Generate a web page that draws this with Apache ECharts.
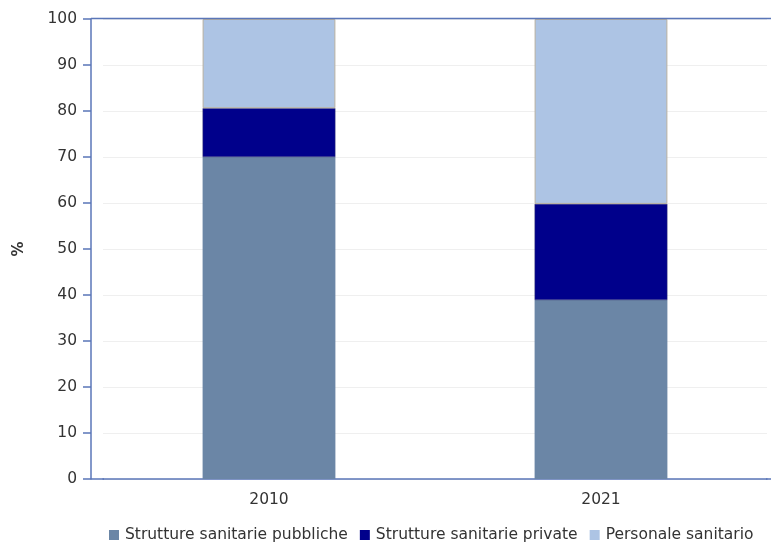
<!DOCTYPE html>
<html><head><meta charset="utf-8">
<script src="https://cdn.jsdelivr.net/npm/echarts@6/dist/echarts.min.js"></script>
<style>html,body{margin:0;padding:0;background:#fff}#c{width:771px;height:545px}</style>
</head><body><div id="c"></div>
<script>
var categories = ['2010', '2021'];
var pubbliche = [70.0, 38.9];
var private_ = [10.6, 20.9];
var personale = [19.4, 40.2];
var yTicks = [0, 10, 20, 30, 40, 50, 60, 70, 80, 90, 100];

var axisBlue = '#5a76b8';
var chart = echarts.init(document.getElementById('c'));
chart.setOption({
  animation: false,
  grid: {left: 103, top: 19, width: 664, height: 460},
  legend: {
    bottom: -3, left: 104, itemWidth: 10, itemHeight: 10, itemGap: 12,
    icon: 'rect',
    textStyle: {fontFamily: 'DejaVu Sans', fontSize: 15.5, color: '#333', padding: [0, 0, 0, 1]},
    data: [
      {name: 'Strutture sanitarie pubbliche', itemStyle: {borderWidth: 0}},
      {name: 'Strutture sanitarie private', itemStyle: {borderWidth: 0}},
      {name: 'Personale sanitario', itemStyle: {borderWidth: 0}}
    ]
  },
  xAxis: {
    type: 'category', data: categories,
    axisLine: {lineStyle: {color: axisBlue, width: 1.5}},
    axisTick: {alignWithLabel: true, length: 5, lineStyle: {color: axisBlue}},
    axisLabel: {fontFamily: 'DejaVu Sans', fontSize: 15.5, color: '#333', margin: 13}
  },
  yAxis: {
    type: 'value', min: 0, max: 100, interval: 10, offset: 12,
    name: '%', nameLocation: 'middle', nameGap: 64, nameRotate: 90,
    nameTextStyle: {fontFamily: 'DejaVu Sans', fontSize: 15, fontWeight: 'bold', color: '#333'},
    axisLine: {show: true, lineStyle: {color: axisBlue, width: 1.5}},
    axisTick: {show: true, length: 8, lineStyle: {color: axisBlue, width: 1.5}},
    axisLabel: {fontFamily: 'DejaVu Sans', fontSize: 15.5, color: '#333', margin: 14,
      formatter: function (v) { return yTicks.indexOf(v) >= 0 ? String(v) : ''; }},
    splitLine: {lineStyle: {color: '#efefef'}}
  },
  graphic: [
    {type: 'line', shape: {x1: 91, y1: 18.5, x2: 771, y2: 18.5}, style: {stroke: axisBlue, lineWidth: 1.5}, z: 10},
    {type: 'line', shape: {x1: 91, y1: 479, x2: 104, y2: 479}, style: {stroke: axisBlue, lineWidth: 1.5}, z: 10},
    {type: 'line', shape: {x1: 766, y1: 479, x2: 771, y2: 479}, style: {stroke: axisBlue, lineWidth: 1.5}, z: 10}
  ],
  series: [
    {name: 'Strutture sanitarie pubbliche', type: 'bar', stack: 'a', barWidth: '40%', data: pubbliche,
      itemStyle: {color: '#6b86a6'}},
    {name: 'Strutture sanitarie private', type: 'bar', stack: 'a', data: private_,
      itemStyle: {color: '#00008b', borderColor: '#303070', borderWidth: 0.5}},
    {name: 'Personale sanitario', type: 'bar', stack: 'a', data: personale,
      itemStyle: {color: '#adc4e4', borderColor: '#b8b0a0', borderWidth: 1}}
  ]
});
</script></body></html>
